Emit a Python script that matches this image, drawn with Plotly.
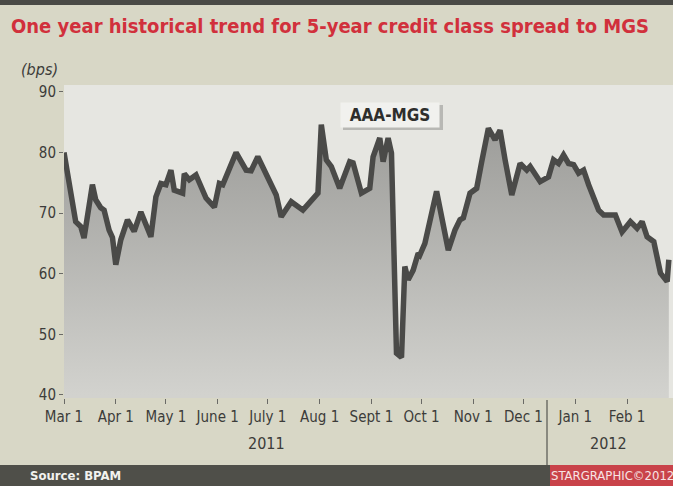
import plotly.graph_objects as go

dates = [
    "2011-03-01", "2011-03-08", "2011-03-11", "2011-03-13", "2011-03-18", "2011-03-20",
    "2011-03-23", "2011-03-25", "2011-03-28", "2011-03-30", "2011-04-01", "2011-04-04",
    "2011-04-08", "2011-04-12", "2011-04-16", "2011-04-22", "2011-04-25", "2011-04-28",
    "2011-05-01", "2011-05-04", "2011-05-06", "2011-05-11", "2011-05-12", "2011-05-15",
    "2011-05-19", "2011-05-22", "2011-05-25", "2011-05-30", "2011-06-02", "2011-06-04",
    "2011-06-12", "2011-06-18", "2011-06-21", "2011-06-25", "2011-07-01", "2011-07-06",
    "2011-07-09", "2011-07-15", "2011-07-22", "2011-07-31", "2011-08-02", "2011-08-05",
    "2011-08-08", "2011-08-13", "2011-08-19", "2011-08-21", "2011-08-26", "2011-08-31",
    "2011-09-02", "2011-09-06", "2011-09-08", "2011-09-11", "2011-09-13", "2011-09-16",
    "2011-09-19", "2011-09-21", "2011-09-23", "2011-09-26", "2011-09-29", "2011-09-30",
    "2011-10-03", "2011-10-10", "2011-10-17", "2011-10-21", "2011-10-24", "2011-10-26",
    "2011-10-30", "2011-11-03", "2011-11-06", "2011-11-10", "2011-11-14", "2011-11-17",
    "2011-11-20", "2011-11-24", "2011-11-29", "2011-12-03", "2011-12-05", "2011-12-11",
    "2011-12-16", "2011-12-19", "2011-12-22", "2011-12-25", "2011-12-28", "2011-12-31",
    "2012-01-03", "2012-01-06", "2012-01-09", "2012-01-15", "2012-01-18", "2012-01-25",
    "2012-01-29", "2012-02-03", "2012-02-07", "2012-02-10", "2012-02-13", "2012-02-17",
    "2012-02-21", "2012-02-25", "2012-02-26",
]
spread_bps = [
    80.0, 68.6, 67.8, 65.9, 74.7, 72.2,
    70.9, 70.5, 67.2, 66.0, 61.5, 65.6,
    68.9, 67.0, 70.2, 66.1, 72.7, 74.9,
    74.7, 77.1, 73.8, 73.3, 76.5, 75.5,
    76.3, 74.4, 72.5, 71.0, 74.9, 74.7,
    80.0, 77.1, 77.0, 79.3, 76.0, 73.0,
    69.4, 71.9, 70.5, 73.3, 84.6, 78.8,
    77.7, 74.1, 78.5, 78.3, 73.3, 74.1,
    79.3, 82.4, 78.5, 82.4, 79.9, 46.9,
    46.2, 61.2, 59.0, 60.6, 63.4, 63.1,
    65.0, 73.6, 63.9, 67.2, 68.9, 69.2,
    73.3, 74.1, 78.5, 84.0, 82.1, 83.7,
    78.8, 73.0, 78.2, 77.1, 77.7, 75.2,
    76.0, 78.8, 78.2, 79.6, 78.2, 78.0,
    76.6, 77.1, 74.7, 70.5, 69.7, 69.7,
    66.9, 68.6, 67.5, 68.6, 66.1, 65.3,
    60.1, 58.7, 62.3,
]

month_ticks = ["2011-03-01", "2011-04-01", "2011-05-01", "2011-06-01", "2011-07-01",
               "2011-08-01", "2011-09-01", "2011-10-01", "2011-11-01", "2011-12-01",
               "2012-01-01", "2012-02-01"]
month_labels = ["Mar 1", "Apr 1", "May 1", "June 1", "July 1", "Aug 1", "Sept 1",
                "Oct 1", "Nov 1", "Dec 1", "Jan 1", "Feb 1"]
y_ticks = [40, 50, 60, 70, 80, 90]

FONT = "Liberation Sans Narrow, DejaVu Sans Condensed, Arial Narrow, sans-serif"
BG = "#d8d7c6"
PLOT_BG = "#e6e6e1"
TXT = "#3c3c3a"

# plot area in pixels: x 64..673, y 85..398
L, T, B = 64, 85, 88
PW = 673 - L
PH = 486 - T - B


def px(pix):
    return (pix - L) / PW


def py(pix):
    return (486 - B - pix) / PH


fig = go.Figure()
fig.add_trace(go.Scatter(
    x=dates, y=spread_bps, mode="lines",
    line=dict(color="#4a4a48", width=5.5),
    fill="tozeroy",
    fillgradient=dict(type="vertical", start=40, stop=85,
                      colorscale=[[0, "#d2d2ce"], [1, "#9c9c99"]]),
    hoverinfo="x+y", showlegend=False,
))

fig.update_layout(
    width=673, height=486,
    margin=dict(l=L, r=0, t=T, b=B),
    paper_bgcolor=BG, plot_bgcolor=PLOT_BG,
    font=dict(family=FONT, color=TXT, size=15),
    xaxis=dict(
        type="date", range=["2011-03-01", "2012-02-28 12:00"],
        tickvals=month_ticks, ticktext=month_labels,
        ticks="outside", ticklen=5, tickwidth=1, tickcolor="#6a6a66",
        showgrid=False, zeroline=False, showline=False,
        tickfont=dict(family=FONT, size=15, color=TXT),
    ),
    yaxis=dict(
        range=[39.5, 91.15], tickvals=y_ticks,
        ticks="outside", ticklen=4, tickwidth=1, tickcolor="#6a6a66",
        showgrid=False, zeroline=False, showline=False,
        tickfont=dict(family=FONT, size=15, color=TXT),
    ),
)

# top dark strip
fig.add_shape(type="rect", xref="paper", yref="paper", x0=px(0), x1=px(673),
              y0=py(5), y1=py(0), fillcolor="#4a4a46", line_width=0)
# footer bars
fig.add_shape(type="rect", xref="paper", yref="paper", x0=px(0), x1=px(673),
              y0=py(486), y1=py(465), fillcolor="#4f4f49", line_width=0)
fig.add_shape(type="rect", xref="paper", yref="paper", x0=px(550), x1=px(673),
              y0=py(486), y1=py(465), fillcolor="#c9434a", line_width=0)
# year separator
fig.add_shape(type="line", xref="paper", yref="paper", x0=px(547), x1=px(547),
              y0=py(465), y1=py(400), line=dict(color="#555550", width=1.2))
# label box shadow
fig.add_shape(type="rect", xref="paper", yref="paper", x0=px(343), x1=px(443),
              y0=py(130), y1=py(105), fillcolor="#b8b8b4", line_width=0)

fig.add_annotation(x=px(9), y=py(26), xref="paper", yref="paper", xanchor="left", yanchor="middle",
                   text="<b>One year historical trend for 5-year credit class spread to MGS</b>",
                   showarrow=False, font=dict(family=FONT, size=20, color="#d1303c"))
fig.add_annotation(x=px(19), y=py(69), xref="paper", yref="paper", xanchor="left", yanchor="middle",
                   text="<i>(bps)</i>", showarrow=False, font=dict(family=FONT, size=16, color=TXT))
fig.add_annotation(x=px(266), y=py(443), xref="paper", yref="paper", xanchor="center", yanchor="middle",
                   text="2011", showarrow=False, font=dict(family=FONT, size=16, color=TXT))
fig.add_annotation(x=px(608), y=py(443), xref="paper", yref="paper", xanchor="center", yanchor="middle",
                   text="2012", showarrow=False, font=dict(family=FONT, size=16, color=TXT))
fig.add_annotation(x=px(390), y=py(115), xref="paper", yref="paper", xanchor="center", yanchor="middle",
                   text="<b>AAA-MGS</b>", showarrow=False,
                   font=dict(family=FONT, size=17, color="#2e2e2c"),
                   bgcolor="#f1f1ee", borderpad=2, width=94, height=20)
fig.add_annotation(x=px(28), y=py(476), xref="paper", yref="paper", xanchor="left", yanchor="middle",
                   text="<b>Source: BPAM</b>", showarrow=False,
                   font=dict(family=FONT, size=13, color="#f2f2ee"))
fig.add_annotation(x=px(612), y=py(476), xref="paper", yref="paper", xanchor="center", yanchor="middle",
                   text="STARGRAPHIC©2012", showarrow=False,
                   font=dict(family=FONT, size=13, color="#f7e4e4"))

fig.write_html("out.html")
